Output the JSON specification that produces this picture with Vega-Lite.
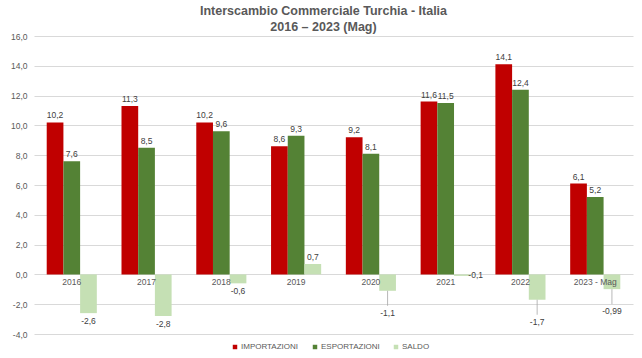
{
  "$schema": "https://vega.github.io/schema/vega-lite/v6.json",
  "width": 599,
  "height": 298,
  "autosize": "none",
  "padding": {"left": 34, "top": 36, "right": 9, "bottom": 24},
  "background": "white",
  "config": {
    "locale": {"number": {"decimal": ",", "thousands": ".", "grouping": [3], "currency": ["€", ""], "minus": "-"}},
    "font": "Liberation Sans",
    "view": {"stroke": null}
  },
  "title": {
    "text": ["Interscambio Commerciale Turchia - Italia", "2016 – 2023 (Mag)"],
    "font": "Liberation Sans",
    "fontSize": 12.5,
    "fontWeight": "bold",
    "color": "#595959",
    "lineHeight": 16,
    "anchor": "middle",
    "frame": "group",
    "offset": 4,
    "dy": 5,
    "dx": -10
  },
  "data": {
    "values": [
      {"anno": "2016", "serie": "IMPORTAZIONI", "valore": 10.2},
      {"anno": "2016", "serie": "ESPORTAZIONI", "valore": 7.6},
      {"anno": "2016", "serie": "SALDO", "valore": -2.6},
      {"anno": "2017", "serie": "IMPORTAZIONI", "valore": 11.3},
      {"anno": "2017", "serie": "ESPORTAZIONI", "valore": 8.5},
      {"anno": "2017", "serie": "SALDO", "valore": -2.8},
      {"anno": "2018", "serie": "IMPORTAZIONI", "valore": 10.2},
      {"anno": "2018", "serie": "ESPORTAZIONI", "valore": 9.6},
      {"anno": "2018", "serie": "SALDO", "valore": -0.6},
      {"anno": "2019", "serie": "IMPORTAZIONI", "valore": 8.6},
      {"anno": "2019", "serie": "ESPORTAZIONI", "valore": 9.3},
      {"anno": "2019", "serie": "SALDO", "valore": 0.7},
      {"anno": "2020", "serie": "IMPORTAZIONI", "valore": 9.2},
      {"anno": "2020", "serie": "ESPORTAZIONI", "valore": 8.1},
      {"anno": "2020", "serie": "SALDO", "valore": -1.1},
      {"anno": "2021", "serie": "IMPORTAZIONI", "valore": 11.6},
      {"anno": "2021", "serie": "ESPORTAZIONI", "valore": 11.5},
      {"anno": "2021", "serie": "SALDO", "valore": -0.1},
      {"anno": "2022", "serie": "IMPORTAZIONI", "valore": 14.1},
      {"anno": "2022", "serie": "ESPORTAZIONI", "valore": 12.4},
      {"anno": "2022", "serie": "SALDO", "valore": -1.7},
      {"anno": "2023 - Mag", "serie": "IMPORTAZIONI", "valore": 6.1},
      {"anno": "2023 - Mag", "serie": "ESPORTAZIONI", "valore": 5.2},
      {"anno": "2023 - Mag", "serie": "SALDO", "valore": -0.99}
    ]
  },
  "encoding": {
    "x": {
      "field": "anno", "type": "nominal", "sort": null,
      "scale": {"paddingInner": 0.33, "paddingOuter": 0.17},
      "axis": {
        "title": null, "labelAngle": 0, "domain": false, "ticks": false,
        "offset": -59.5, "labelPadding": 3, "zindex": 1,
        "labelFont": "Liberation Sans", "labelFontSize": 8.5, "labelColor": "#595959"
      }
    },
    "xOffset": {"field": "serie", "type": "nominal", "sort": ["IMPORTAZIONI", "ESPORTAZIONI", "SALDO"]},
    "y": {
      "field": "valore", "type": "quantitative",
      "scale": {"domain": [-4, 16], "nice": false},
      "axis": {
        "title": null, "values": [-4, -2, 0, 2, 4, 6, 8, 10, 12, 14, 16],
        "format": ".1f", "domain": false, "ticks": false, "labelPadding": 7,
        "gridColor": "#D9D9D9", "gridWidth": 1,
        "labelFont": "Liberation Sans", "labelFontSize": 8.5, "labelColor": "#595959"
      }
    }
  },
  "layer": [
    {
      "mark": {"type": "bar"},
      "encoding": {
        "color": {
          "field": "serie", "type": "nominal",
          "sort": ["IMPORTAZIONI", "ESPORTAZIONI", "SALDO"],
          "scale": {"domain": ["IMPORTAZIONI", "ESPORTAZIONI", "SALDO"], "range": ["#C00000", "#548235", "#C5E0B4"]},
          "legend": {
            "title": null, "orient": "none", "direction": "horizontal",
            "legendX": 197, "legendY": 307,
            "symbolType": "square", "symbolSize": 20, "symbolStrokeWidth": 0,
            "labelFont": "Liberation Sans", "labelFontSize": 8, "labelColor": "#595959",
            "columnPadding": 12, "labelOffset": 2
          }
        }
      }
    },
    {
      "transform": [{"filter": "datum.valore >= 0"}],
      "mark": {"type": "text", "baseline": "middle", "dy": -7, "fontSize": 8.5, "color": "#404040"},
      "encoding": {"text": {"field": "valore", "type": "quantitative", "format": "~r"}}
    },
    {
      "transform": [{"filter": "datum.valore < 0 && (datum.anno == '2016' || datum.anno == '2017' || datum.anno == '2018')"}],
      "mark": {"type": "text", "baseline": "middle", "dy": 8, "fontSize": 8.5, "color": "#404040"},
      "encoding": {"text": {"field": "valore", "type": "quantitative", "format": "~r"}}
    },
    {
      "transform": [{"filter": "datum.valore < 0 && (datum.anno == '2020' || datum.anno == '2022' || datum.anno == '2023 - Mag')"}],
      "mark": {"type": "rule", "y2Offset": 15, "color": "#A6A6A6", "strokeWidth": 0.8},
      "encoding": {"y2": {"field": "valore"}}
    },
    {
      "transform": [{"filter": "datum.valore < 0 && (datum.anno == '2020' || datum.anno == '2022' || datum.anno == '2023 - Mag')"}],
      "mark": {"type": "text", "baseline": "middle", "dy": 22, "fontSize": 8.5, "color": "#404040"},
      "encoding": {"text": {"field": "valore", "type": "quantitative", "format": "~r"}}
    },
    {
      "transform": [{"filter": "datum.anno == '2021' && datum.serie == 'SALDO'"}],
      "mark": {"type": "text", "baseline": "middle", "align": "left", "dx": 6, "dy": -1, "fontSize": 8.5, "color": "#404040"},
      "encoding": {"text": {"field": "valore", "type": "quantitative", "format": "~r"}}
    }
  ]
}
